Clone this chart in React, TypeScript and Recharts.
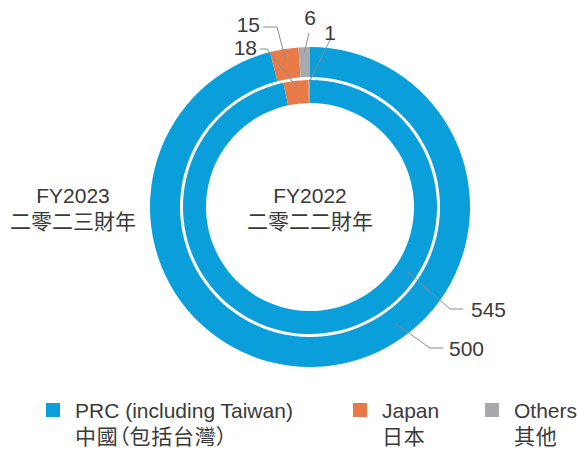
import React from "react";
import { Legend, Pie, PieChart } from "recharts";

const categories = ["PRC (including Taiwan)", "Japan", "Others"];
const categoriesZh = ["中國（包括台灣）", "日本", "其他"];
const fy2022 = [545, 18, 1];
const fy2023 = [500, 15, 6];
const ringTitles = [
  { en: "FY2022", zh: "二零二二財年" },
  { en: "FY2023", zh: "二零二三財年" },
];

const COLORS = ["#0a9fdb", "#e87b47", "#a8a9ac"];
const FONT = "'Liberation Sans', 'Noto Sans CJK TC', sans-serif";
const TEXT = "#3a3a3a";
const LINE = "#8c8c8c";
const CX = 310;
const CY = 207;
const RAD = Math.PI / 180;

// leader line layout per slice: anchor angle/radius, elbow offset from the centre,
// horizontal tail length (signed) and where the text sits
type LeaderLayout = {
  angle?: number;
  r: number;
  elbow: [number, number];
  tail: number;
  text: [number, number];
  textAnchor: "start" | "middle" | "end";
};

const innerLeaders: LeaderLayout[] = [
  { angle: -33.6, r: 117, elbow: [140, 102], tail: 13, text: [161, 102], textAnchor: "start" },
  { r: 121, elbow: [-43, -158], tail: -7, text: [-53, -160], textAnchor: "end" },
  { r: 125, elbow: [20, -167], tail: 0, text: [20, -175], textAnchor: "middle" },
];

const outerLeaders: LeaderLayout[] = [
  { angle: -53.8, r: 144, elbow: [120, 141], tail: 13, text: [139, 141], textAnchor: "start" },
  { r: 148, elbow: [-33, -180], tail: -14, text: [-50, -183], textAnchor: "end" },
  { r: 155, elbow: [-1, -174], tail: 0, text: [0, -190], textAnchor: "middle" },
];

const toData = (values: number[]) =>
  values.map((value, i) => ({ name: categories[i], value, fill: COLORS[i] }));

const makeLabel = (layouts: LeaderLayout[]) => (props: any) => {
  const { cx, cy, midAngle, index, value } = props;
  const l = layouts[index];
  const a = l.angle ?? midAngle;
  const ax = cx + l.r * Math.cos(-a * RAD);
  const ay = cy + l.r * Math.sin(-a * RAD);
  const ex = cx + l.elbow[0];
  const ey = cy + l.elbow[1];
  return (
    <g key={`lbl-${index}`}>
      <polyline
        points={`${ax},${ay} ${ex},${ey} ${ex + l.tail},${ey}`}
        fill="none"
        stroke={LINE}
        strokeWidth={1}
      />
      <text
        x={cx + l.text[0]}
        y={cy + l.text[1]}
        textAnchor={l.textAnchor}
        dominantBaseline="central"
        fontSize={21}
        fontFamily={FONT}
        fill={TEXT}
      >
        {value}
      </text>
    </g>
  );
};

const legendX = [46, 353, 485];

const renderLegend = () => (
  <div style={{ position: "relative", width: 578, height: 54, fontFamily: FONT, color: TEXT }}>
    {categories.map((c, i) => (
      <div key={c} style={{ position: "absolute", left: legendX[i], top: 0 }}>
        <div
          style={{
            position: "absolute",
            left: 0,
            top: 8,
            width: 14,
            height: 14,
            background: COLORS[i],
          }}
        />
        <div
          style={{
            position: "absolute",
            left: 29,
            top: 3,
            fontSize: 21,
            lineHeight: "26px",
            whiteSpace: "nowrap",
          }}
        >
          {c}
          <br />
          <span style={{ fontFeatureSettings: '"palt"', letterSpacing: "0.7px" }}>{categoriesZh[i]}</span>
        </div>
      </div>
    ))}
  </div>
);

const RingTitle = ({ x, en, zh }: { x: number; en: string; zh: string }) => (
  <g fontFamily={FONT} fill={TEXT} fontSize={21} textAnchor="middle">
    <text x={x} y={CY - 12} dominantBaseline="central">
      {en}
    </text>
    <text x={x} y={CY + 14} dominantBaseline="central">
      {zh}
    </text>
  </g>
);

export default function App() {
  return (
    <div style={{ position: "absolute", left: 0, top: 0, width: 578, height: 449, background: "#fff" }}>
      <PieChart width={578} height={449} margin={{ top: 0, right: 0, bottom: 0, left: 0 }}>
        <Pie
          data={toData(fy2023)}
          dataKey="value"
          cx={CX}
          cy={CY}
          innerRadius={130}
          outerRadius={160}
          startAngle={90}
          endAngle={-270}
          stroke="none"
          label={makeLabel(outerLeaders)}
          labelLine={false}
          isAnimationActive={false}
        />
        <Pie
          data={toData(fy2022)}
          dataKey="value"
          cx={CX}
          cy={CY}
          innerRadius={104}
          outerRadius={127}
          startAngle={90}
          endAngle={-270}
          stroke="none"
          label={makeLabel(innerLeaders)}
          labelLine={false}
          isAnimationActive={false}
        />
        <RingTitle x={CX} en={ringTitles[0].en} zh={ringTitles[0].zh} />
        <RingTitle x={73} en={ringTitles[1].en} zh={ringTitles[1].zh} />
        <Legend
          content={renderLegend}
          verticalAlign="bottom"
          wrapperStyle={{ top: 395, bottom: "auto", left: 0, width: 578 }}
        />
      </PieChart>
    </div>
  );
}
